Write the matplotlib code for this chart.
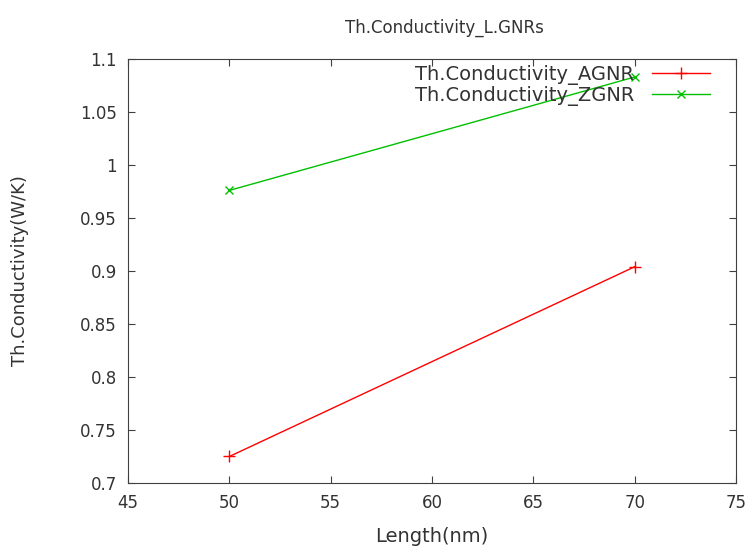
import matplotlib.pyplot as plt

# Data
length_nm = [50, 70]
agnr = [0.725, 0.904]
zgnr = [0.976, 1.083]
x_ticks = [45, 50, 55, 60, 65, 70, 75]
y_ticks = [0.7, 0.75, 0.8, 0.85, 0.9, 0.95, 1.0, 1.05, 1.1]
y_tick_labels = ['0.7', '0.75', '0.8', '0.85', '0.9', '0.95', '1', '1.05', '1.1']

plt.rcParams['font.family'] = 'DejaVu Sans'
text_col = '#333333'

fig = plt.figure(figsize=(7.47, 5.46), dpi=100)
ax = fig.add_axes([0.1714, 0.1154, 0.8139, 0.7766])

ax.plot(length_nm, agnr, color='#ff0000', marker='+', markersize=8, lw=1,
        label='Th.Conductivity_AGNR')
ax.plot(length_nm, zgnr, color='#00c000', marker='x', markersize=6, lw=1,
        label='Th.Conductivity_ZGNR')

ax.set_xlim(45, 75)
ax.set_ylim(0.7, 1.1)
ax.set_xticks(x_ticks)
ax.set_yticks(y_ticks)
ax.set_yticklabels(y_tick_labels)
ax.tick_params(direction='in', top=True, right=True, labelsize=12,
               length=5, color='#404040', labelcolor=text_col, pad=8)
for s in ax.spines.values():
    s.set_color('#404040')

ax.set_title('Th.Conductivity_L.GNRs', fontsize=12, color=text_col, x=0.521, pad=19)
ax.set_xlabel('Length(nm)', fontsize=14, color=text_col, labelpad=11)
ax.set_ylabel('Th.Conductivity(W/K)', fontsize=13, color=text_col, labelpad=37)

leg = ax.legend(loc='upper right', bbox_to_anchor=(0.97, 1.005), frameon=False,
                markerfirst=False, fontsize=14, handlelength=3,
                borderaxespad=0.0, labelspacing=0.05, handletextpad=0.9)
for t in leg.get_texts():
    t.set_color(text_col)

fig.savefig('out.png', dpi=100)
